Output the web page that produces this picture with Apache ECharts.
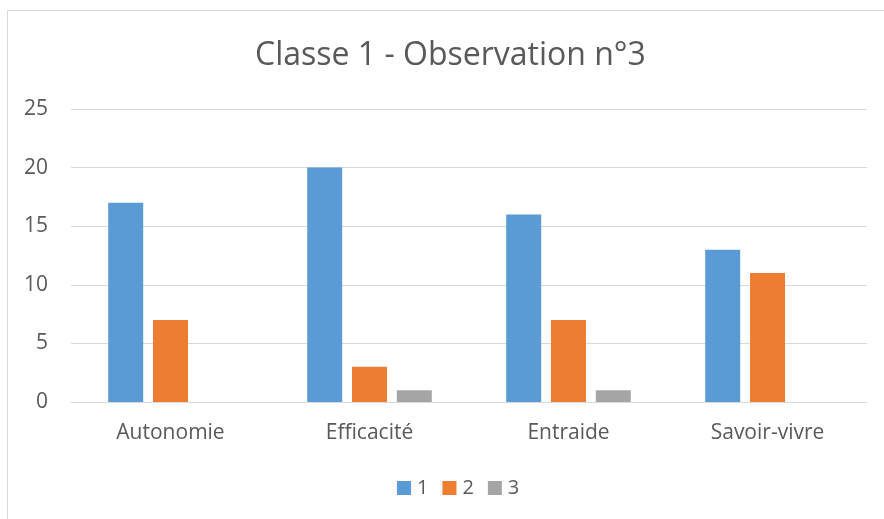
<!DOCTYPE html>
<html>
<head>
<meta charset="utf-8">
<script src="https://cdn.jsdelivr.net/npm/echarts@6/dist/echarts.min.js"></script>
<style>
  html, body { margin: 0; padding: 0; background: #fff; }
  #chart { width: 884px; height: 519px; }
</style>
</head>
<body>
<div id="chart"></div>
<script>
// données
const categories = ['Autonomie', 'Efficacité', 'Entraide', 'Savoir-vivre'];
const serie1 = [17, 20, 16, 13];
const serie2 = [7, 3, 7, 11];
const serie3 = [0, 1, 1, 0];
const seriesNames = ['1', '2', '3'];
const colors = ['#5B9BD5', '#ED7D31', '#A5A5A5'];

const font = '"Open Sans", "Noto Sans", sans-serif';
const chart = echarts.init(document.getElementById('chart'));

chart.setOption({
  animation: false,
  color: colors,
  textStyle: { fontFamily: font },
  graphic: [{
    type: 'rect',
    shape: { x: 7.5, y: 10.5, width: 900, height: 600 },
    style: { fill: 'none', stroke: '#d9d9d9', lineWidth: 1 },
    silent: true
  }],
  title: {
    text: 'Classe 1 - Observation n°3',
    left: 250,
    top: 35,
    textStyle: { fontSize: 32, fontWeight: 'normal', color: '#595959', fontFamily: font }
  },
  legend: {
    data: seriesNames,
    top: 473,
    left: 392,
    itemWidth: 14,
    itemHeight: 14,
    itemGap: 14,
    icon: 'rect',
    textStyle: { fontSize: 20, color: '#595959', fontFamily: font, padding: [0, 0, 0, 1] }
  },
  grid: { left: 71, right: 17, top: 109, bottom: 117, containLabel: false },
  xAxis: {
    type: 'category',
    data: categories,
    axisLine: { lineStyle: { color: '#d9d9d9', width: 1 } },
    axisTick: { show: false },
    axisLabel: { fontSize: 21, color: '#595959', margin: 21, fontFamily: font }
  },
  yAxis: {
    type: 'value',
    min: 0,
    max: 25,
    interval: 5,
    axisLine: { show: false },
    axisTick: { show: false },
    splitLine: { lineStyle: { color: '#d9d9d9', width: 1 } },
    axisLabel: { fontSize: 21, color: '#595959', margin: 23, fontFamily: font }
  },
  series: [
    { name: seriesNames[0], type: 'bar', data: serie1, barWidth: 35, barGap: '28%' },
    { name: seriesNames[1], type: 'bar', data: serie2, barWidth: 35, barGap: '28%' },
    { name: seriesNames[2], type: 'bar', data: serie3, barWidth: 35, barGap: '28%' }
  ]
});
</script>
</body>
</html>
